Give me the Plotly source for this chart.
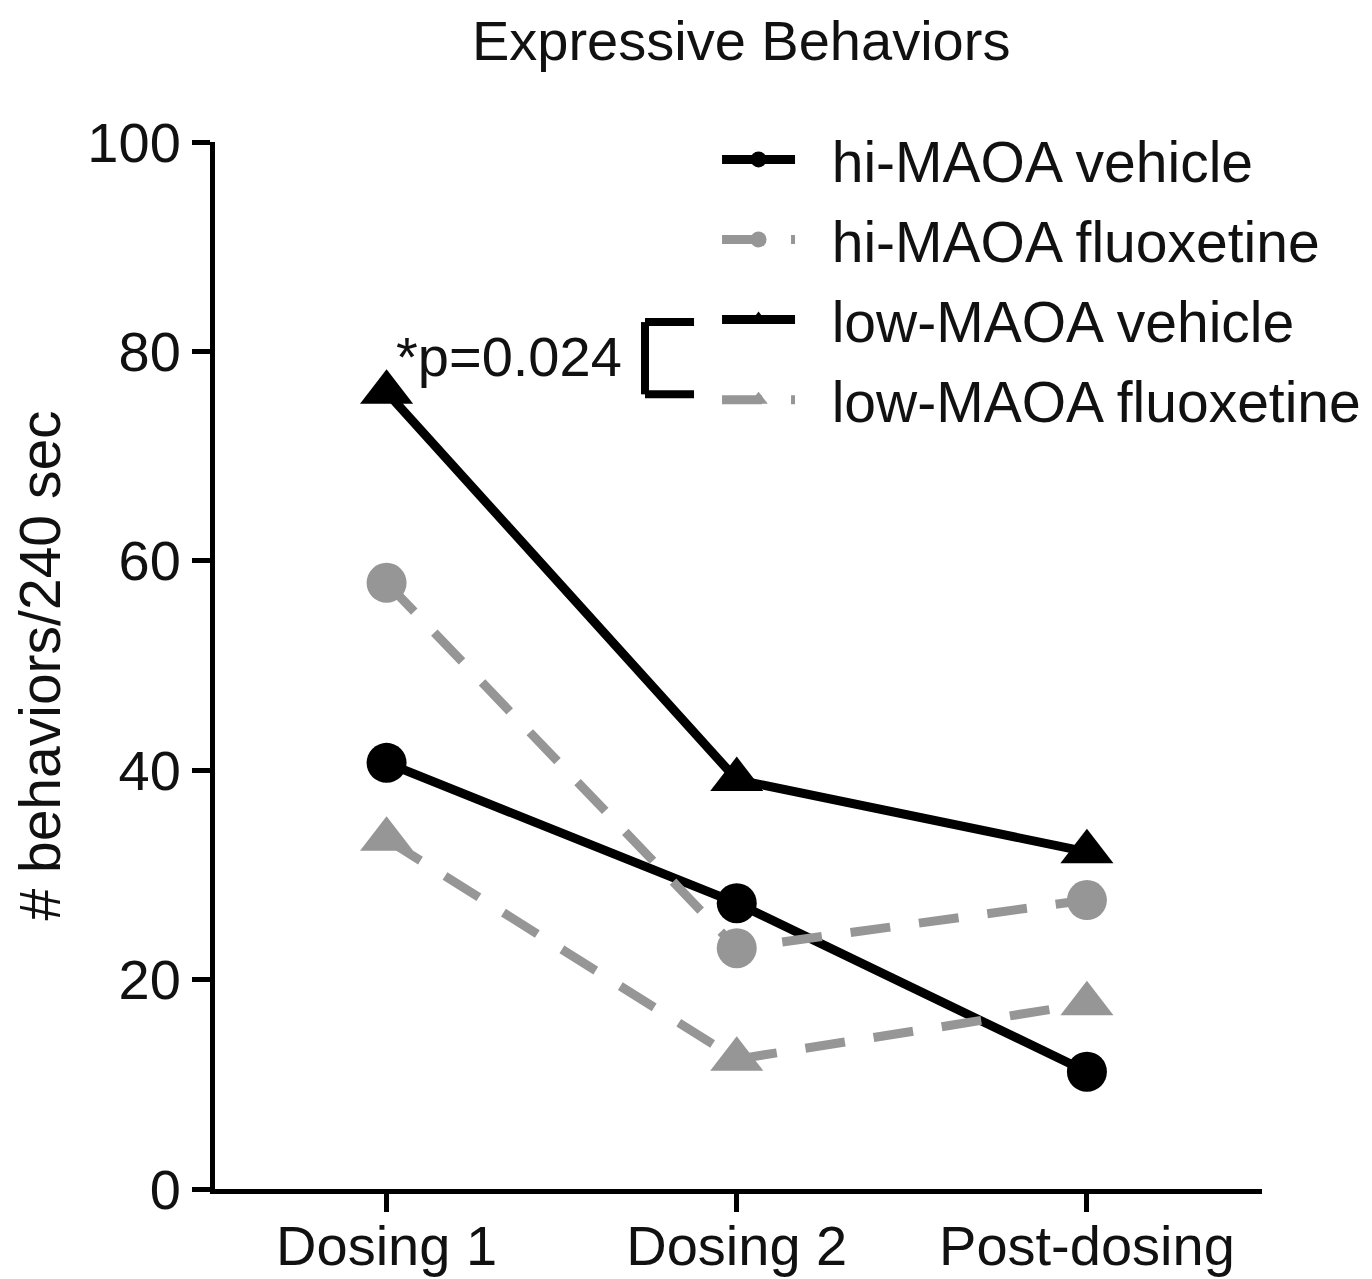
import plotly.graph_objects as go

categories = ["Dosing 1", "Dosing 2", "Post-dosing"]
hi_vehicle = [40.7, 27.3, 11.2]
hi_fluoxetine = [57.9, 23.0, 27.6]
low_vehicle = [76.1, 39.1, 32.2]
low_fluoxetine = [33.4, 12.4, 17.7]
y_ticks = [0, 20, 40, 60, 80, 100]

BLACK = "#000000"
GRAY = "#969696"
FONT = "Liberation Sans, Arial, sans-serif"
TXT = "#111111"
xpos = list(range(len(categories)))

series = [
    ("hi-MAOA vehicle", hi_vehicle, BLACK, "circle", "solid", 40),
    ("hi-MAOA fluoxetine", hi_fluoxetine, GRAY, "circle", "40px,29px", 40),
    ("low-MAOA vehicle", low_vehicle, BLACK, "triangle-up", "solid", 46),
    ("low-MAOA fluoxetine", low_fluoxetine, GRAY, "triangle-up", "40px,29px", 46),
]

fig = go.Figure()
for i, (name, vals, col, sym, dash, size) in enumerate(series):
    fig.add_trace(go.Scatter(
        x=xpos, y=vals, name="  " + name, mode="lines+markers",
        legendgroup=f"g{i}",
        line=dict(color=col, width=9, dash=dash),
        marker=dict(color=col, symbol=sym, size=size, line=dict(width=0)),
    ))

fig.add_annotation(x=0.022, y=79.5, xref="x", yref="y", text="*p=0.024",
                   showarrow=False, xanchor="left", yanchor="middle",
                   font=dict(family=FONT, size=56, color=TXT))
# bracket
bx0, bx1, by0, by1 = 0.738, 0.878, 75.9, 82.8
for (x0, y0, x1, y1) in [(bx0, by0, bx0, by1), (bx0, by1, bx1, by1), (bx0, by0, bx1, by0)]:
    fig.add_shape(type="line", xref="x", yref="y", x0=x0, y0=y0, x1=x1, y1=y1,
                  line=dict(color=BLACK, width=8))

fig.update_layout(
    width=1364, height=1271,
    margin=dict(l=207, r=110, t=134, b=90, autoexpand=False),
    plot_bgcolor="white", paper_bgcolor="white",
    font=dict(family=FONT, color=TXT),
    title=dict(text="Expressive Behaviors", x=0.5375, xanchor="center",
               y=0.9748, yanchor="middle",
               font=dict(family=FONT, size=56, color=TXT)),
    showlegend=True,
    legend=dict(x=0.4795, y=1.025, xanchor="left", yanchor="top",
                font=dict(family=FONT, size=57, color=TXT),
                bgcolor="rgba(0,0,0,0)", itemwidth=73,
                tracegroupgap=3, traceorder="grouped"),
    xaxis=dict(range=[-0.49, 2.5], tickvals=xpos, ticktext=categories,
               showline=True, linecolor=BLACK, linewidth=5,
               ticks="outside", ticklen=18, tickwidth=5, tickcolor=BLACK,
               showgrid=False, zeroline=False, automargin=False,
               ticklabelstandoff=-14,
               tickfont=dict(family=FONT, size=56, color=TXT)),
    yaxis=dict(range=[0, 100], tickvals=y_ticks,
               showline=True, linecolor=BLACK, linewidth=5,
               ticks="outside", ticklen=18, tickwidth=5, tickcolor=BLACK,
               showgrid=False, zeroline=False, automargin=False,
               tickfont=dict(family=FONT, size=56, color=TXT),
               title=dict(text="# behaviors/240 sec", standoff=18,
                          font=dict(family=FONT, size=57, color=TXT))),
)

fig.write_html("out.html")
